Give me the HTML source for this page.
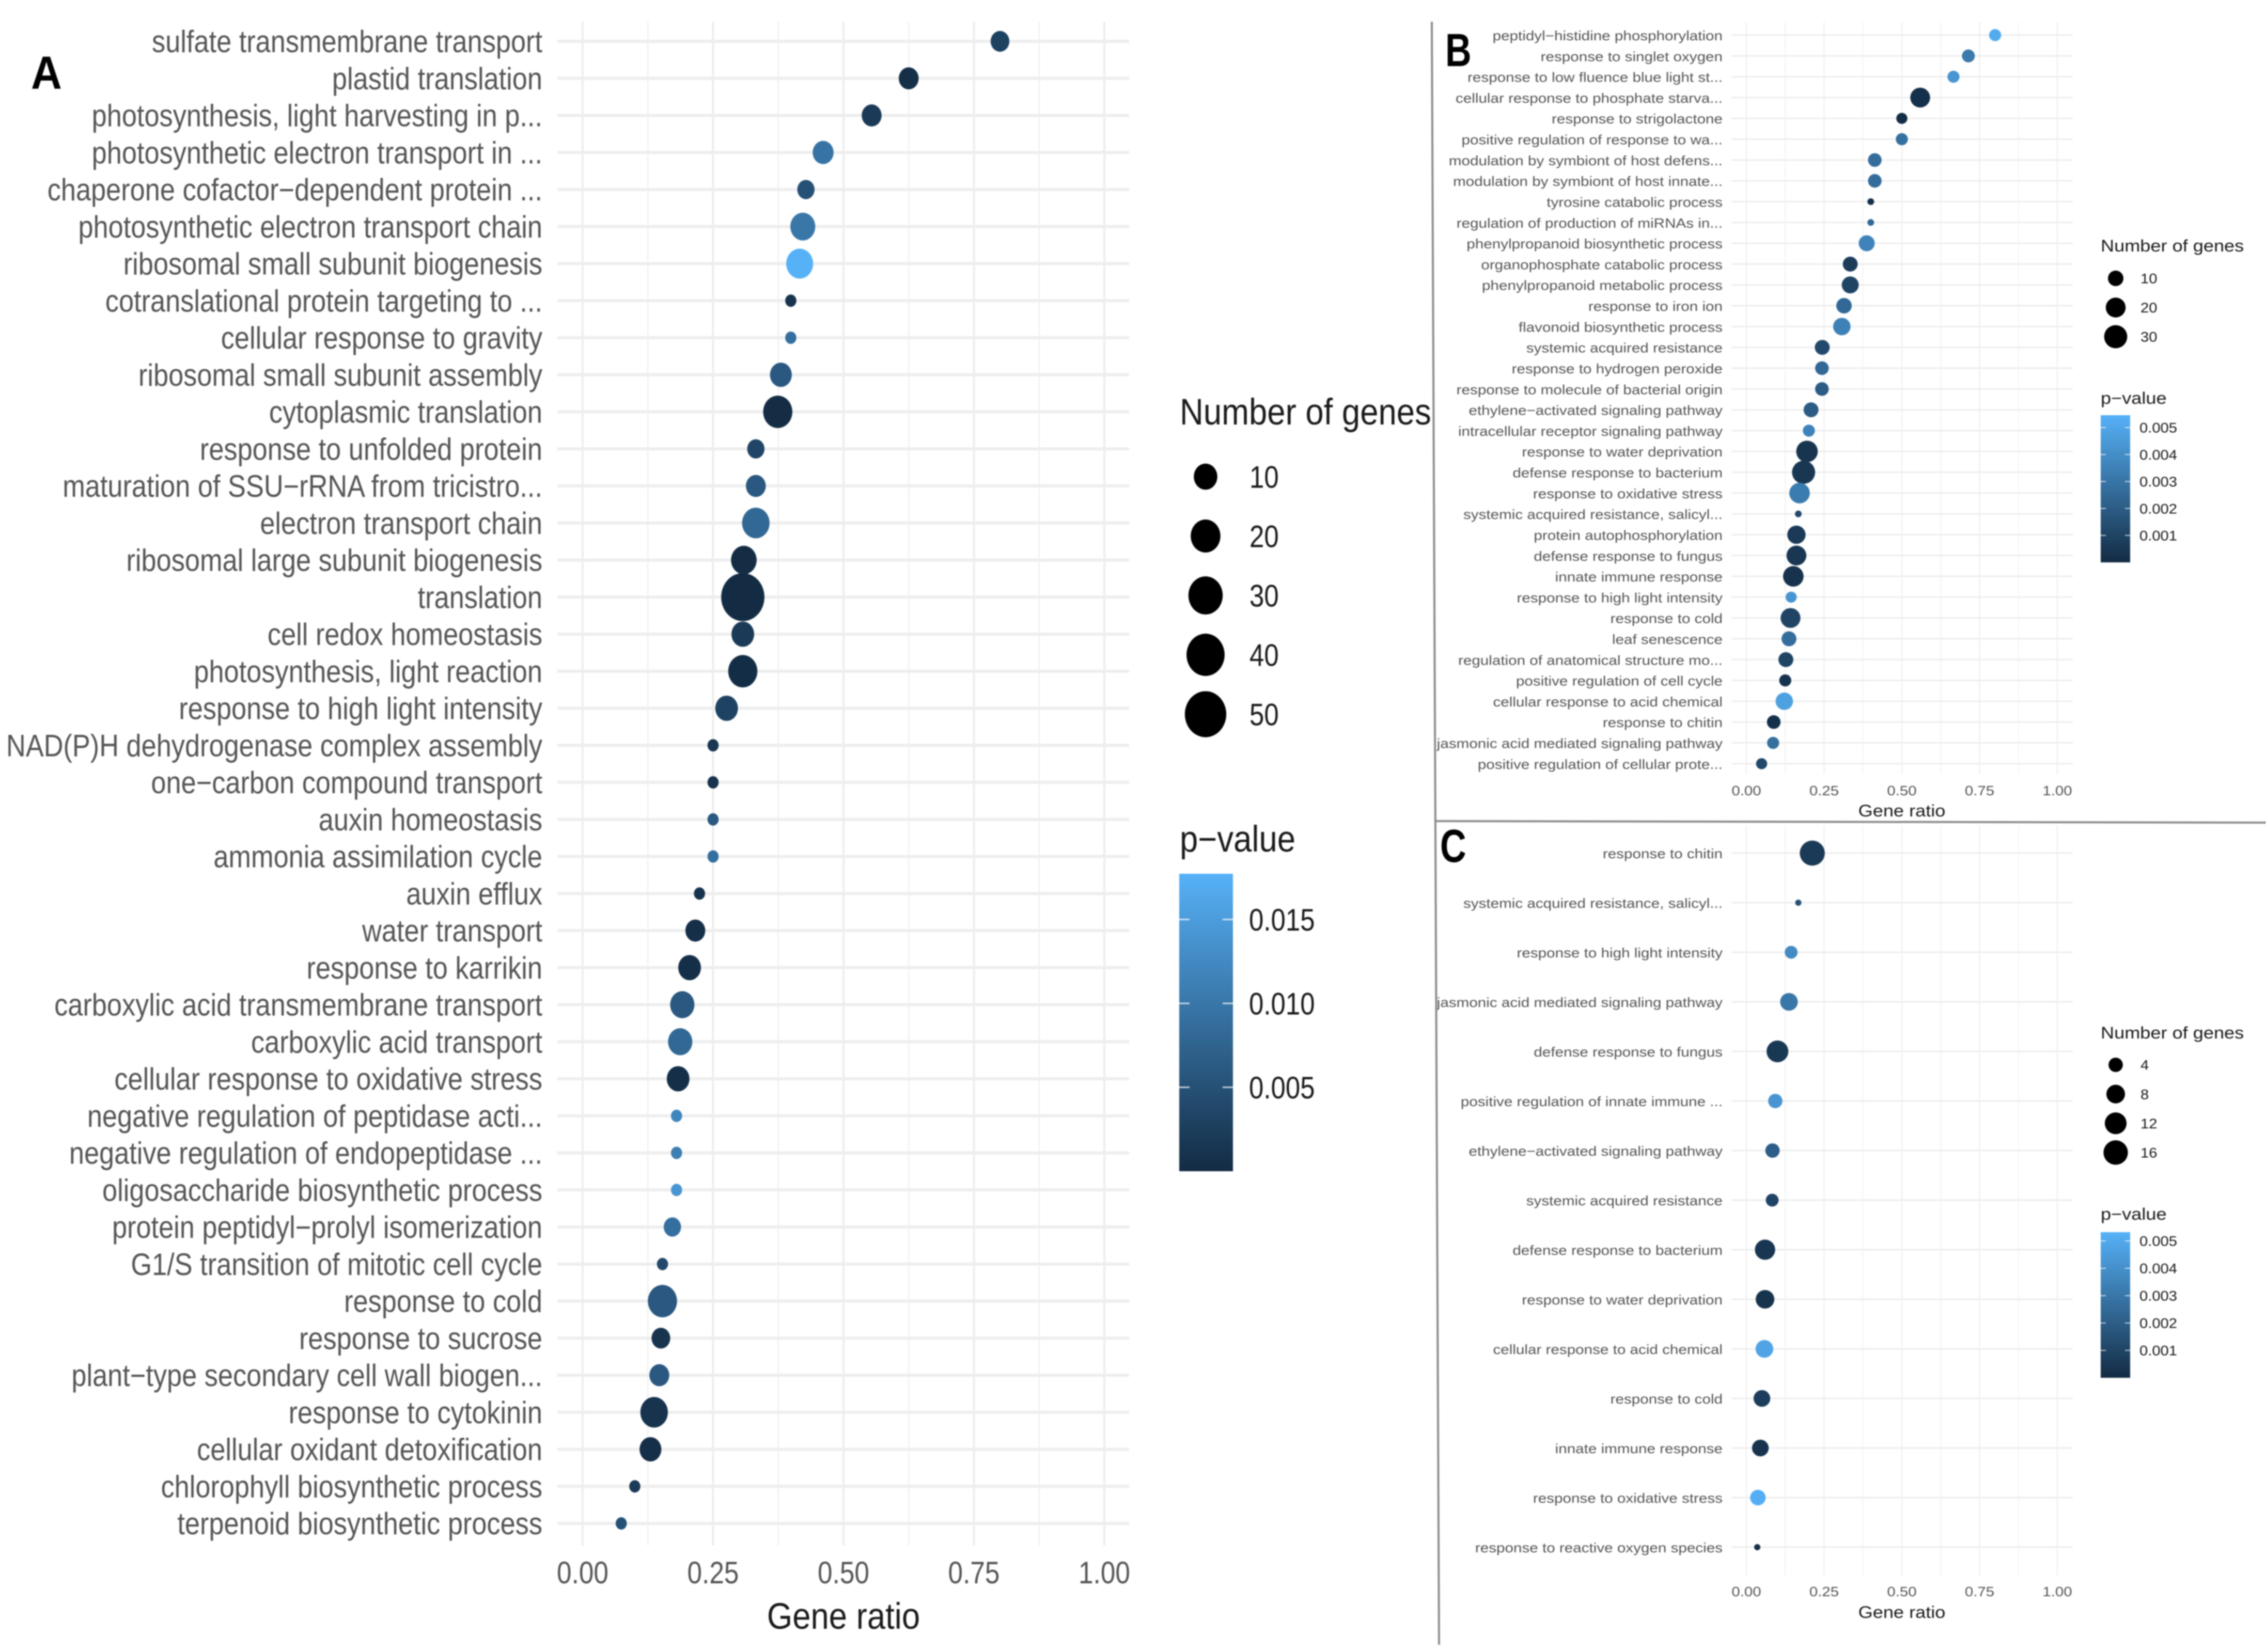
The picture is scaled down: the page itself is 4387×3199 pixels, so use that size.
<!DOCTYPE html>
<html lang="en">
<head>
<meta charset="utf-8">
<title>Gene ontology dot plots</title>
<style>
html,body{margin:0;padding:0;background:#fff;}
svg{display:block;filter:blur(1.2px);}
text{font-family:"Liberation Sans",sans-serif;}
.letter{font-weight:700;font-size:90px;fill:#000;}
</style>
</head>
<body>
<svg id="figure" xmlns="http://www.w3.org/2000/svg" width="4387" height="3199" viewBox="0 0 4387 3199">
  <rect x="0" y="0" width="4387" height="3199" fill="#ffffff"/>
  <g id="layer-a"></g>
  <g id="layer-b"></g>
  <g id="layer-c"></g>
  <line x1="2772" y1="42" x2="2786" y2="3185" stroke="#8c8c8c" stroke-width="4"/>
  <line x1="2779" y1="1590" x2="4387" y2="1593" stroke="#8c8c8c" stroke-width="4"/>
  <text class="letter" transform="translate(60,172) scale(0.92,1)">A</text>
  <text class="letter" transform="translate(2798,128) scale(0.78,1)">B</text>
  <text class="letter" transform="translate(2788,1669) scale(0.78,1)">C</text>
</svg>
<script>
/* ---------- Panel A data ---------- */
const aCategories = ["sulfate transmembrane transport","plastid translation","photosynthesis, light harvesting in p...","photosynthetic electron transport in ...","chaperone cofactor−dependent protein ...","photosynthetic electron transport chain","ribosomal small subunit biogenesis","cotranslational protein targeting to ...","cellular response to gravity","ribosomal small subunit assembly","cytoplasmic translation","response to unfolded protein","maturation of SSU−rRNA from tricistro...","electron transport chain","ribosomal large subunit biogenesis","translation","cell redox homeostasis","photosynthesis, light reaction","response to high light intensity","NAD(P)H dehydrogenase complex assembly","one−carbon compound transport","auxin homeostasis","ammonia assimilation cycle","auxin efflux","water transport","response to karrikin","carboxylic acid transmembrane transport","carboxylic acid transport","cellular response to oxidative stress","negative regulation of peptidase acti...","negative regulation of endopeptidase ...","oligosaccharide biosynthetic process","protein peptidyl−prolyl isomerization","G1/S transition of mitotic cell cycle","response to cold","response to sucrose","plant−type secondary cell wall biogen...","response to cytokinin","cellular oxidant detoxification","chlorophyll biosynthetic process","terpenoid biosynthetic process"];
const aRatios = [0.80,0.625,0.554,0.461,0.428,0.422,0.416,0.399,0.399,0.380,0.374,0.332,0.332,0.332,0.309,0.307,0.307,0.307,0.276,0.25,0.25,0.25,0.25,0.224,0.216,0.205,0.191,0.187,0.183,0.18,0.18,0.18,0.172,0.153,0.153,0.15,0.147,0.137,0.130,0.10,0.074];
const aGenes = [5,6,6,7,4,12,15,2,2,8,19,4,6,16,13,56,9,19,9,2,2,2,2,2,6,9,11,11,9,2,2,2,4,2,19,5,6,16,8,2,2];
const aPvalues = [0.003,0.0005,0.002,0.0095,0.005,0.010,0.0177,0.001,0.009,0.006,0.0002,0.0035,0.006,0.008,0.0002,0.0001,0.002,0.0003,0.003,0.0015,0.001,0.006,0.009,0.001,0.0005,0.0005,0.006,0.008,0.0005,0.012,0.011,0.014,0.009,0.004,0.006,0.001,0.006,0.001,0.0005,0.002,0.005];
const aSizeBreaks = [10,20,30,40,50];
const aColorBreaks = [0.015,0.010,0.005];
const aColorLabels = ["0.015","0.010","0.005"];

/* ---------- Panel B data ---------- */
const bCategories = ["peptidyl−histidine phosphorylation","response to singlet oxygen","response to low fluence blue light st...","cellular response to phosphate starva...","response to strigolactone","positive regulation of response to wa...","modulation by symbiont of host defens...","modulation by symbiont of host innate...","tyrosine catabolic process","regulation of production of miRNAs in...","phenylpropanoid biosynthetic process","organophosphate catabolic process","phenylpropanoid metabolic process","response to iron ion","flavonoid biosynthetic process","systemic acquired resistance","response to hydrogen peroxide","response to molecule of bacterial origin","ethylene−activated signaling pathway","intracellular receptor signaling pathway","response to water deprivation","defense response to bacterium","response to oxidative stress","systemic acquired resistance, salicyl...","protein autophosphorylation","defense response to fungus","innate immune response","response to high light intensity","response to cold","leaf senescence","regulation of anatomical structure mo...","positive regulation of cell cycle","cellular response to acid chemical","response to chitin","jasmonic acid mediated signaling pathway","positive regulation of cellular prote..."];
const bRatios = [0.80,0.714,0.666,0.559,0.50,0.50,0.413,0.413,0.40,0.40,0.387,0.334,0.334,0.314,0.307,0.244,0.243,0.243,0.208,0.201,0.195,0.184,0.171,0.167,0.161,0.161,0.151,0.144,0.142,0.137,0.127,0.125,0.122,0.088,0.086,0.049];
const bGenes = [5,6,5,20,4,5,7,7,2,2,11,9,13,10,14,9,7,7,9,5,25,30,22,2,16,20,22,4,20,9,9,5,14,7,5,4];
const bPvalues = [0.0052,0.0032,0.0043,0.0002,0.0001,0.0028,0.0027,0.0027,0.0002,0.0025,0.0036,0.0007,0.001,0.0025,0.0035,0.0012,0.0025,0.002,0.002,0.0036,0.0004,0.0005,0.0033,0.0012,0.0006,0.0005,0.0003,0.0043,0.001,0.0027,0.001,0.0003,0.0048,0.0002,0.0028,0.0012];
const bSizeBreaks = [10,20,30];
const bColorBreaks = [0.005,0.004,0.003,0.002,0.001];
const bColorLabels = ["0.005","0.004","0.003","0.002","0.001"];

/* ---------- Panel C data ---------- */
const cCategories = ["response to chitin","systemic acquired resistance, salicyl...","response to high light intensity","jasmonic acid mediated signaling pathway","defense response to fungus","positive regulation of innate immune ...","ethylene−activated signaling pathway","systemic acquired resistance","defense response to bacterium","response to water deprivation","cellular response to acid chemical","response to cold","innate immune response","response to oxidative stress","response to reactive oxygen species"];
const cRatios = [0.212,0.167,0.144,0.137,0.10,0.093,0.084,0.083,0.06,0.06,0.058,0.05,0.045,0.037,0.035];
const cGenes = [17,1,3,7,12,4,4,3,10,8,7,6,6,5,1];
const cPvalues = [0.0006,0.0015,0.0038,0.003,0.0005,0.0042,0.002,0.001,0.0004,0.0003,0.0048,0.0007,0.0003,0.0052,0.0001];
const cSizeBreaks = [4,8,12,16];
const cColorBreaks = [0.005,0.004,0.003,0.002,0.001];
const cColorLabels = ["0.005","0.004","0.003","0.002","0.001"];

/* ---------- Shared axis data ---------- */
const xTickValues = [0,0.25,0.5,0.75,1];
const xMinorValues = [0.125,0.375,0.625,0.875];
const xTickLabels = ["0.00","0.25","0.50","0.75","1.00"];

/* ---------- Layout (not data) ---------- */
const layoutA = {
  key:'a', x0:1128, x1:2138, gridL:1079, gridR:2186, gridT:42, gridB:2993, row0:80, rowStep:71.75,
  labelRight:1050, labelFont:60, labelScale:0.872, labelDy:21, hWidth:6, vMajor:4, vMinor:3,
  tickY:3066, tickFont:60, tickScale:0.856, titleY:3154, titleFont:71, titleScale:0.894,
  sizeA:12, sizeK:4.7, sizeMin:2, rxScale:0.9,
  legTitleX:2284, legTitleY:822, legFont:71, legScale:0.894,
  legDotX:2334, legDotY0:923, legDotStep:115, legLabelX:2419, legLabelFont:60, legLabelScale:0.85,
  cbTitleY:1649, cbX:2283, cbW:104, cbT:1692, cbB:2268, pMax:0.0177, pxPerP:32500, tickLen:20, cbTickW:3
};
const layoutB = {
  key:'b', x0:3381, x1:3983, gridL:3352, gridR:4013, gridT:43, gridB:1499, row0:68, rowStep:40.31,
  labelRight:3335, labelFont:26, labelScale:1.14, labelDy:10, hWidth:3, vMajor:2, vMinor:2,
  tickY:1540, tickFont:26, tickScale:1.13, titleY:1581, titleFont:32, titleScale:1.13,
  sizeA:6.5, sizeK:3.0, sizeMin:2, rxScale:1,
  legTitleX:4067, legTitleY:487, legFont:32, legScale:1.13,
  legDotX:4096, legDotY0:539, legDotStep:56.5, legLabelX:4144, legLabelFont:27, legLabelScale:1.08,
  cbTitleY:782, cbX:4067, cbW:57, cbT:804, cbB:1089, pMax:0.00546, pxPerP:52200, tickLen:10, cbTickW:2
};
const layoutC = {
  key:'c', x0:3381, x1:3983, gridL:3352, gridR:4013, gridT:1599, gridB:3052, row0:1652, rowStep:96,
  labelRight:3335, labelFont:26, labelScale:1.14, labelDy:10, hWidth:3, vMajor:2, vMinor:2,
  tickY:3091, tickFont:26, tickScale:1.13, titleY:3133, titleFont:32, titleScale:1.13,
  sizeA:6, sizeK:4.55, sizeMin:1, rxScale:1,
  legTitleX:4067, legTitleY:2011, legFont:32, legScale:1.13,
  legDotX:4096, legDotY0:2062, legDotStep:56.6, legLabelX:4144, legLabelFont:27, legLabelScale:1.08,
  cbTitleY:2362, cbX:4067, cbW:57, cbT:2386, cbB:2668, pMax:0.0053, pxPerP:53000, tickLen:10, cbTickW:2
};

const SVGNS = 'http://www.w3.org/2000/svg';
const LOW = [19,43,67];
const HIGH = [86,177,247];

function svgEl(tag, attrs, parent) {
  const el = document.createElementNS(SVGNS, tag);
  for (const k in attrs) el.setAttribute(k, attrs[k]);
  parent.appendChild(el);
  return el;
}
function slug(s) {
  return s.toLowerCase().replace(/[^a-z0-9]+/g, '-').replace(/^-|-$/g, '');
}
function scaledText(str, x, y, size, sx, anchor, fill, parent) {
  const t = svgEl('text', {
    transform: 'translate(' + x + ',' + y + ') scale(' + sx + ',1)',
    'font-size': size, 'text-anchor': anchor, fill: fill
  }, parent);
  t.textContent = str;
  return t;
}
function colorOf(p, pMax) {
  const t = Math.max(0, Math.min(1, p / pMax));
  const c = LOW.map((v, i) => Math.round(v + (HIGH[i] - v) * t));
  return 'rgb(' + c.join(',') + ')';
}
function radiusOf(n, L) {
  return L.sizeA + L.sizeK * Math.sqrt(Math.max(0, n - L.sizeMin));
}

function drawPanel(L, categories, ratios, genes, pvalues, sizeBreaks, colorBreaks, colorLabels) {
  const root = document.getElementById('layer-' + L.key);
  const xScale = v => L.x0 + (L.x1 - L.x0) * v;
  const yScale = i => L.row0 + L.rowStep * i;

  xMinorValues.forEach(v => {
    const g = svgEl('line', {x1:xScale(v), x2:xScale(v), y1:L.gridT, y2:L.gridB, stroke:'#f3f3f3', 'stroke-width':L.vMinor}, root);
    
    
  });
  xTickValues.forEach(v => {
    const g = svgEl('line', {x1:xScale(v), x2:xScale(v), y1:L.gridT, y2:L.gridB, stroke:'#ededed', 'stroke-width':L.vMajor}, root);
    
    
  });

  categories.forEach((c, i) => {
    const y = yScale(i);
    const g = svgEl('line', {x1:L.gridL, x2:L.gridR, y1:y, y2:y, stroke:'#eeeeee', 'stroke-width':L.hWidth}, root);
    
    
    const t = scaledText(c, L.labelRight, y + L.labelDy, L.labelFont, L.labelScale, 'end', '#555555', root);
    
    
  });

  categories.forEach((c, i) => {
    const r = radiusOf(genes[i], L);
    const d = svgEl('ellipse', {cx:xScale(ratios[i]), cy:yScale(i), rx:r * L.rxScale, ry:r, fill:colorOf(pvalues[i], L.pMax)}, root);
    
    
  });

  xTickValues.forEach((v, i) => {
    const t = scaledText(xTickLabels[i], xScale(v), L.tickY, L.tickFont, L.tickScale, 'middle', '#555555', root);
    
    
  });
  const xt = scaledText('Gene ratio', (L.x0 + L.x1) / 2, L.titleY, L.titleFont, L.titleScale, 'middle', '#1a1a1a', root);
  
  

  const lt = scaledText('Number of genes', L.legTitleX, L.legTitleY, L.legFont, L.legScale, 'start', '#1a1a1a', root);
  
  
  sizeBreaks.forEach((n, i) => {
    const y = L.legDotY0 + L.legDotStep * i;
    const r = radiusOf(n, L);
    const d = svgEl('ellipse', {cx:L.legDotX, cy:y, rx:r * L.rxScale, ry:r, fill:'#000'}, root);
    
    
    const t = scaledText(String(n), L.legLabelX, y + L.legLabelFont * 0.36, L.legLabelFont, L.legLabelScale, 'start', '#1a1a1a', root);
    
    
  });

  const ct = scaledText('p−value', L.legTitleX, L.cbTitleY, L.legFont, L.legScale, 'start', '#1a1a1a', root);
  
  

  const defs = svgEl('defs', {}, root);
  const grad = svgEl('linearGradient', {id:'grad-' + L.key, x1:0, y1:0, x2:0, y2:1}, defs);
  svgEl('stop', {offset:'0%', 'stop-color':colorOf(L.pMax, L.pMax)}, grad);
  svgEl('stop', {offset:'100%', 'stop-color':colorOf(0, L.pMax)}, grad);
  const bar = svgEl('rect', {x:L.cbX, y:L.cbT, width:L.cbW, height:L.cbB - L.cbT, fill:'url(#grad-' + L.key + ')'}, root);
  
  

  colorBreaks.forEach((p, i) => {
    const y = L.cbB - p * L.pxPerP;
    const a = svgEl('line', {x1:L.cbX, x2:L.cbX + L.tickLen, y1:y, y2:y, stroke:'#ffffff', 'stroke-opacity':0.7, 'stroke-width':L.cbTickW}, root);
    
    
    const b = svgEl('line', {x1:L.cbX + L.cbW - L.tickLen, x2:L.cbX + L.cbW, y1:y, y2:y, stroke:'#ffffff', 'stroke-opacity':0.7, 'stroke-width':L.cbTickW}, root);
    
    
    const t = scaledText(colorLabels[i], L.legLabelX - (L.key === 'a' ? 1 : 2), y + L.legLabelFont * 0.36, L.legLabelFont, L.legLabelScale, 'start', '#1a1a1a', root);
    
    
  });
}

drawPanel(layoutA, aCategories, aRatios, aGenes, aPvalues, aSizeBreaks, aColorBreaks, aColorLabels);
drawPanel(layoutB, bCategories, bRatios, bGenes, bPvalues, bSizeBreaks, bColorBreaks, bColorLabels);
drawPanel(layoutC, cCategories, cRatios, cGenes, cPvalues, cSizeBreaks, cColorBreaks, cColorLabels);
</script>
</body>
</html>
